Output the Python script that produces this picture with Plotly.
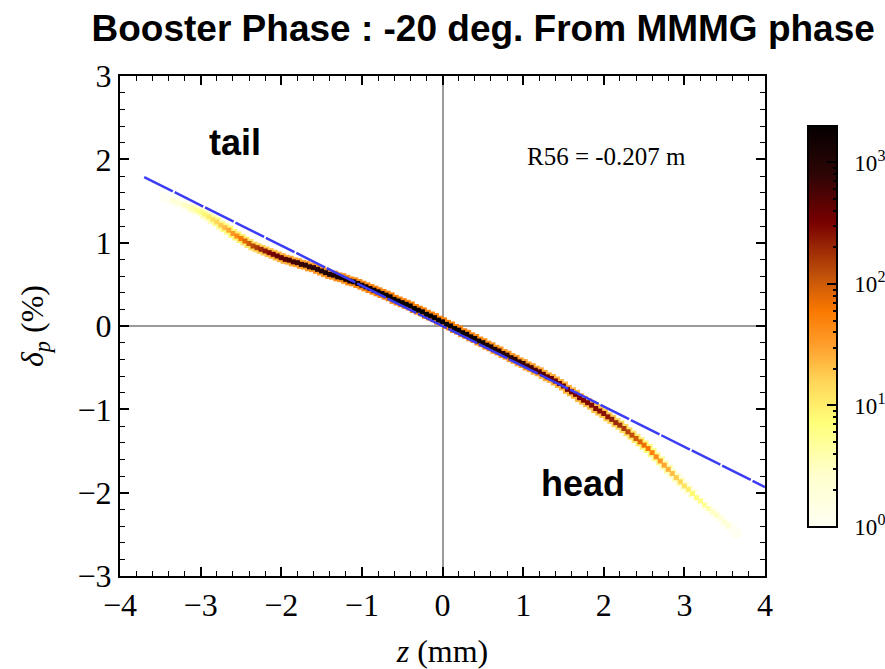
import numpy as np
import plotly.graph_objects as go

# Longitudinal phase space after the booster (2D histogram of delta_p vs z)
R56_m = -0.207
z_bin_start = -3.45   # mm, centre of first occupied z bin
z_bin_width = 0.05    # mm

# centre of the occupied delta_p band (%) in each z bin
delta_center = [
    1.55, 1.53, 1.51, 1.49, 1.47, 1.45,
    1.43, 1.41, 1.39, 1.37,
    1.34, 1.31, 1.28, 1.25,
    1.21, 1.18, 1.15, 1.11,
    1.08, 1.05, 1.02, 0.99,
    0.96, 0.94, 0.92, 0.90,
    0.88, 0.86, 0.84, 0.82,
    0.80, 0.79, 0.77, 0.76,
    0.74, 0.73, 0.71, 0.70, 0.68, 0.66,
    0.64, 0.62, 0.61, 0.59, 0.58, 0.56, 0.54, 0.53, 0.51, 0.49,
    0.47, 0.45, 0.43, 0.41, 0.39, 0.37, 0.35, 0.32, 0.30, 0.28,
    0.26, 0.24, 0.21, 0.19, 0.17, 0.14, 0.12, 0.10, 0.07, 0.05,
    0.02, 0.00, -0.03, -0.05, -0.08, -0.10, -0.13, -0.15, -0.18, -0.20,
    -0.23, -0.25, -0.28, -0.30, -0.33, -0.35, -0.38, -0.40, -0.43, -0.45,
    -0.48, -0.50, -0.53, -0.55, -0.58, -0.61, -0.63, -0.66, -0.69, -0.72,
    -0.76, -0.79, -0.82, -0.86, -0.89, -0.92, -0.95, -0.99, -1.02, -1.05,
    -1.09, -1.12, -1.16, -1.19, -1.23, -1.27, -1.31, -1.35, -1.39, -1.43,
    -1.47, -1.52, -1.57, -1.62, -1.67, -1.72, -1.77, -1.82, -1.87, -1.92,
    -1.96, -2.01, -2.06, -2.10, -2.15, -2.19, -2.23, -2.27, -2.31, -2.36,
    -2.40, -2.44, -2.49,
]

# particle counts in the core bin of the band
core_counts = [
    1, 1, 2, 2, 2, 3,
    3, 4, 5, 6,
    8, 10, 12, 15,
    18, 22, 28, 35,
    45, 60, 80, 100,
    130, 160, 200, 240,
    280, 330, 380, 430,
    480, 540, 600, 660,
    720, 780, 840, 900, 950, 1000,
    1050, 1100, 1150, 1200, 1250, 1300, 1350, 1400, 1450, 1500,
    1550, 1600, 1650, 1700, 1750, 1800, 1850, 1900, 1950, 2000,
    2000, 2000, 2000, 2000, 2000, 2000, 2000, 2000, 2000, 2000,
    1950, 1900, 1850, 1800, 1750, 1700, 1650, 1600, 1500, 1400,
    1300, 1200, 1100, 1000, 950, 900, 850, 800, 750, 700,
    650, 600, 560, 520, 480, 450, 420, 400, 380, 360,
    350, 340, 330, 320, 310, 300, 290, 280, 270, 260,
    240, 220, 200, 180, 160, 140, 120, 100, 85, 70,
    60, 50, 42, 35, 30, 25, 21, 18, 15, 12,
    10, 8, 7, 6, 5, 4, 3, 3, 2, 2,
    2, 1, 1,
]

# particle counts in the bins at the edges of the band
edge_counts = [
    1, 1, 1, 1, 1, 1,
    1, 2, 2, 2,
    3, 3, 4, 5,
    5, 6, 7, 8,
    9, 10, 11, 12,
    14, 15, 17, 18,
    20, 22, 23, 25,
    26, 27, 28, 29,
    30, 30, 32, 32, 34, 34,
    35, 35, 38, 38, 40, 40, 42, 42, 45, 45,
    45, 48, 48, 50, 50, 50, 50, 50, 50, 50,
    50, 50, 50, 50, 50, 50, 50, 50, 50, 50,
    50, 50, 48, 48, 45, 45, 42, 42, 40, 40,
    38, 38, 36, 36, 34, 34, 32, 32, 30, 30,
    30, 30, 28, 28, 26, 26, 25, 25, 24, 24,
    24, 23, 23, 22, 22, 21, 21, 20, 20, 19,
    18, 17, 16, 15, 14, 13, 12, 11, 10, 9,
    7, 6, 5, 5, 4, 4, 3, 3, 3, 2,
    2, 2, 1, 1, 1, 1, 1, 1, 1, 1,
    1, 1, 1,
]

# extent of the linear-chirp reference line (mm)
fit_z = [-3.7, 4.0]

cbar_max_log = 3.3
major_decades = [0, 1, 2, 3]
major_labels = ["\u2004\u200910<sup>%d</sup>" % d for d in major_decades]
minor_values = [m * 10 ** d for d in range(0, 4) for m in range(2, 10) if m * 10 ** d <= 2000]

z_bins = z_bin_start + z_bin_width * np.arange(len(delta_center))
# z[mm] = R56[m] * 1000 * delta[%] / 100
fit_delta = [z / (R56_m * 10.0) for z in fit_z]

heat = [
    [0.00, "rgb(255,255,242)"],
    [0.13, "rgb(255,255,205)"],
    [0.26, "rgb(255,255,120)"],
    [0.36, "rgb(255,215,90)"],
    [0.46, "rgb(255,155,40)"],
    [0.54, "rgb(250,120,0)"],
    [0.63, "rgb(190,80,10)"],
    [0.76, "rgb(120,0,0)"],
    [0.88, "rgb(45,5,5)"],
    [1.00, "rgb(5,0,0)"],
]

serif = "Liberation Serif"
sans = "Liberation Sans"

cb_common = dict(
    x=1.0667, xanchor="left", xref="paper",
    y=0.499, yanchor="middle", len=0.802, lenmode="fraction",
    thickness=29, xpad=0, ypad=0,
)

fig = go.Figure()

fig.add_trace(go.Scatter(
    x=z_bins, y=delta_center, mode="markers",
    marker=dict(symbol="square", size=9, line=dict(width=0),
                color=np.log10(edge_counts), colorscale=heat,
                cmin=0, cmax=cbar_max_log, showscale=False),
    hoverinfo="skip", showlegend=False,
))

fig.add_trace(go.Scatter(
    x=z_bins, y=delta_center, mode="markers",
    marker=dict(symbol="square", size=5, line=dict(width=0),
                color=np.log10(core_counts), colorscale=heat,
                cmin=0, cmax=cbar_max_log, showscale=True,
                colorbar=dict(
                    **cb_common,
                    outlinewidth=2, outlinecolor="black",
                    ticks="inside", ticklen=5, tickwidth=1.5, tickcolor="black",
                    tickmode="array", tickvals=np.log10(minor_values),
                    showticklabels=False,
                )),
    showlegend=False,
))

# decade ticks and labels of the colour bar
fig.add_trace(go.Scatter(
    x=[None], y=[None], mode="markers",
    marker=dict(color=[0], cmin=0, cmax=cbar_max_log,
                colorscale=[[0, "rgba(0,0,0,0)"], [1, "rgba(0,0,0,0)"]],
                showscale=True,
                colorbar=dict(
                    **cb_common,
                    outlinewidth=0, bgcolor="rgba(0,0,0,0)",
                    ticks="inside", ticklen=10, tickwidth=1.5, tickcolor="black",
                    tickmode="array", tickvals=major_decades, ticktext=major_labels,
                    tickfont=dict(family=serif, size=23, color="black"),
                )),
    showlegend=False, hoverinfo="skip",
))

fig.add_trace(go.Scatter(
    x=fit_z, y=fit_delta, mode="lines",
    line=dict(color="#3c3cf5", width=2.5, dash="32px,2px"),
    showlegend=False, hoverinfo="skip",
))

axis_common = dict(
    showgrid=False,
    showline=True, linecolor="black", linewidth=2,
    mirror="allticks",
    ticks="inside", ticklen=9, tickwidth=1.5, tickcolor="black",
    minor=dict(ticks="inside", ticklen=5, tickwidth=1.2, tickcolor="black", dtick=0.2),
    zeroline=True, zerolinecolor="#9a9a9a", zerolinewidth=1.5,
    tickfont=dict(family=serif, size=32, color="black"),
    dtick=1,
)

fig.update_layout(
    width=885, height=669,
    margin=dict(l=120, r=120, t=76, b=93, autoexpand=False),
    paper_bgcolor="white", plot_bgcolor="white",
    title=dict(
        text="<b>Booster Phase : -20 deg. From MMMG phase</b>",
        font=dict(family=sans, size=37, color="black"),
        xref="container", x=0.546, xanchor="center",
        yref="container", y=0.958, yanchor="middle",
    ),
    xaxis=dict(
        **axis_common, range=[-4, 4],
        title=dict(text="<i>z</i> (mm)", font=dict(family=serif, size=32, color="black"), standoff=18),
    ),
    yaxis=dict(
        **axis_common, range=[-3, 3],
        title=dict(text="<i>δ<sub>p</sub></i> (%)", font=dict(family=serif, size=32, color="black"), standoff=24),
    ),
    annotations=[
        dict(x=-2.57, y=2.2, xref="x", yref="y", text="<b>tail</b>", showarrow=False,
             font=dict(family=sans, size=36, color="black")),
        dict(x=1.74, y=-1.89, xref="x", yref="y", text="<b>head</b>", showarrow=False,
             font=dict(family=sans, size=36, color="black")),
        dict(x=1.02, y=2.03, xref="x", yref="y", xanchor="left", yanchor="middle",
             text=f"R56 = {R56_m} m", showarrow=False,
             font=dict(family=serif, size=25, color="black")),
    ],
)

fig.write_html("out.html")
